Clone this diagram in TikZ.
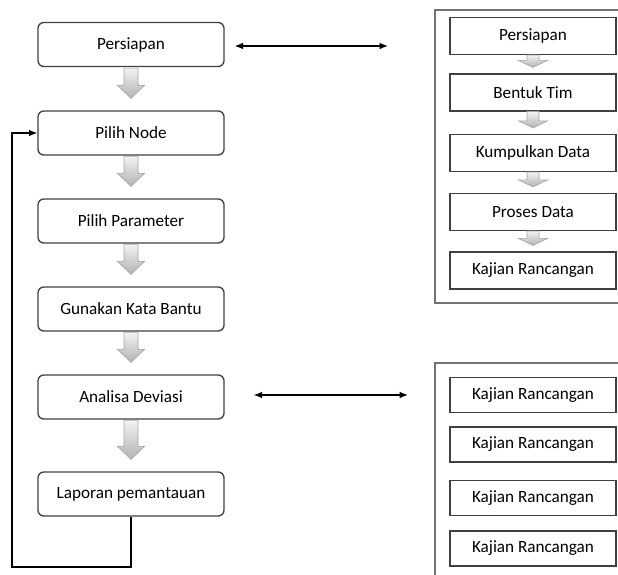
\documentclass[tikz,border=0pt]{standalone}
\usepackage{fontspec}
\setmainfont{Carlito}
\usetikzlibrary{arrows.meta,calc}

\newcommand{\bigarrow}[2]{%
  \draw[blockarrow] let \p1=(#1.south), \p2=(#2.north) in
    (\x1-4.2pt,\y1-0.6pt) -- (\x1+4.2pt,\y1-0.6pt) -- (\x1+4.2pt,\y2+15pt)
    -- (\x1+8.1pt,\y2+15pt) -- (\x1,\y2+7.2pt) -- (\x1-8.1pt,\y2+15pt)
    -- (\x1-4.2pt,\y2+15pt) -- cycle;}
\newcommand{\smallarrow}[2]{%
  \draw[blockarrow] let \p1=(#1.south), \p2=(#2.north) in
    (\x1-3.6pt,\y1) -- (\x1+3.6pt,\y1) -- (\x1+3.6pt,\y2+7.8pt)
    -- (\x1+8.7pt,\y2+7.8pt) -- (\x1,\y2+3.6pt) -- (\x1-8.7pt,\y2+7.8pt)
    -- (\x1-3.6pt,\y2+7.8pt) -- cycle;}

\begin{document}
\begin{tikzpicture}[
    x=0.6pt, y=-0.6pt,
    proc/.style={draw=black!75, line width=0.8pt, rounded corners=3.5pt,
                 minimum width=111.6pt, minimum height=26.4pt,
                 font=\fontsize{10.3}{12}\selectfont, text=black},
    sub/.style={draw=black!75, line width=0.7pt,
                minimum width=99.6pt, minimum height=22.2pt,
                font=\fontsize{10.3}{12}\selectfont, text=black},
    frame/.style={draw=black!55, line width=0.7pt},
    blockarrow/.style={draw=gray!70, line width=0.4pt,
                       top color=gray!10, bottom color=gray!60},
    link/.style={line width=0.8pt,
                 {Latex[length=5pt,width=4pt]}-{Latex[length=5pt,width=4pt]}},
  ]
  \useasboundingbox (0,0) rectangle (618,575);
  \clip (0,0) rectangle (618,575);

  \node[proc] (persiapan) at (131,44.5) {Persiapan};
  \node[proc] (node)      at (131,133)  {Pilih Node};
  \node[proc] (param)     at (131,221)  {Pilih Parameter};
  \node[proc] (kata)      at (131,309)  {Gunakan Kata Bantu};
  \node[proc] (deviasi)   at (131,397)  {Analisa Deviasi};
  \node[proc] (laporan)   at (131,494)  {Laporan pemantauan};

  \bigarrow{persiapan}{node}
  \bigarrow{node}{param}
  \bigarrow{param}{kata}
  \bigarrow{kata}{deviasi}
  \bigarrow{deviasi}{laporan}

  \coordinate (loop) at (12,567);
  \draw[line width=0.8pt, -{Latex[length=5pt,width=4pt]}]
    (laporan.south) |- (loop) |- (node.west);

  \draw[frame] (435,10) rectangle (660,303);
  \node[sub] (s1) at (533,36)    {Persiapan};
  \node[sub] (s2) at (533,92.5)  {Bentuk Tim};
  \node[sub] (s3) at (533,153)   {Kumpulkan Data};
  \node[sub] (s4) at (533,212)   {Proses Data};
  \node[sub] (s5) at (533,270.5) {Kajian Rancangan};
  \smallarrow{s1}{s2}
  \smallarrow{s2}{s3}
  \smallarrow{s3}{s4}
  \smallarrow{s4}{s5}

  \draw[frame] (435,363) rectangle (660,620);
  \node[sub, minimum height=21pt] (k1) at (533,395)   {Kajian Rancangan};
  \node[sub, minimum height=21pt] (k2) at (533,444.5) {Kajian Rancangan};
  \node[sub, minimum height=21pt] (k3) at (533,498)   {Kajian Rancangan};
  \node[sub, minimum height=21pt] (k4) at (533,548.5) {Kajian Rancangan};

  \coordinate (a1) at (388,46);
  \coordinate (a2) at (408,395);
  \draw[link] ($(persiapan.east)+(10,1.5)$) -- (a1);
  \draw[link] ($(deviasi.east)+(29,-2)$) -- (a2);
\end{tikzpicture}
\end{document}
